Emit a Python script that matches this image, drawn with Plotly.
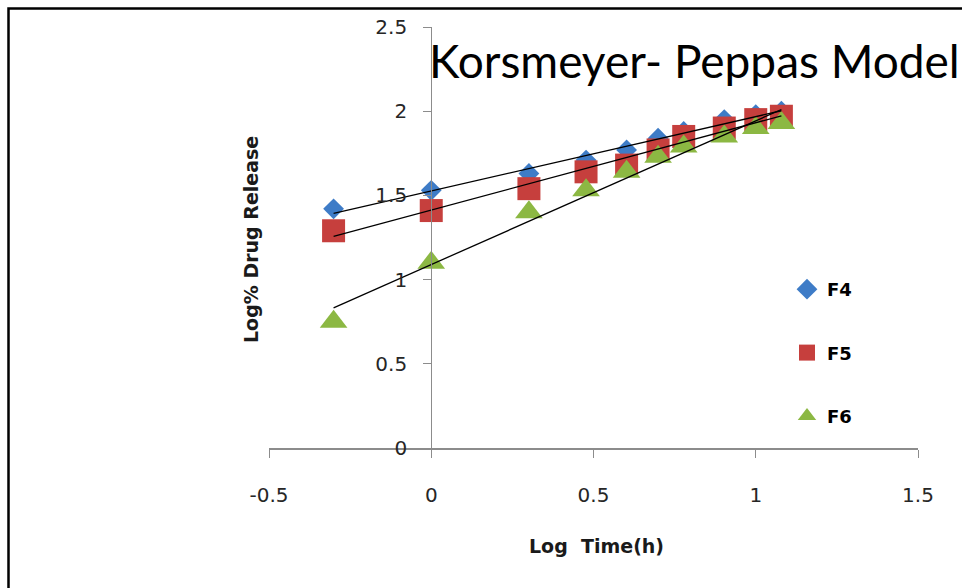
import numpy as np
import plotly.graph_objects as go

# Data (log time in hours, log % drug release)
log_time = [-0.301, 0.0, 0.301, 0.477, 0.602, 0.699, 0.778, 0.903, 1.0, 1.079]
f4 = [1.42, 1.53, 1.63, 1.71, 1.77, 1.84, 1.88, 1.95, 1.98, 2.00]
f5 = [1.29, 1.41, 1.54, 1.64, 1.68, 1.77, 1.85, 1.90, 1.95, 1.97]
f6 = [0.75, 1.10, 1.40, 1.53, 1.64, 1.73, 1.79, 1.85, 1.90, 1.93]
series_names = ["F4", "F5", "F6"]
x_ticks = [-0.5, 0, 0.5, 1, 1.5]
y_ticks = [0, 0.5, 1, 1.5, 2, 2.5]

W, H = 962, 588
px_l, px_r, px_t, px_b = 269, 918, 27, 448

styles = [
    dict(symbol="diamond", size=16, color="#3E7CC7"),
    dict(symbol="square", size=23, color="#C63F3D"),
    dict(symbol="triangle-up", size=24, color="#8CB843"),
]

fig = go.Figure()
for name, ys, st in zip(series_names, [f4, f5, f6], styles):
    fig.add_trace(go.Scatter(
        x=log_time, y=ys, mode="markers", name=name,
        legendgroup=name,
        marker=dict(symbol=st["symbol"], size=st["size"], color=st["color"],
                    line=dict(width=0)),
    ))

# Linear trendlines
for name, ys in zip(series_names, [f4, f5, f6]):
    m, c = np.polyfit(log_time, ys, 1)
    xs = np.array([min(log_time), max(log_time)])
    fig.add_trace(go.Scatter(
        x=xs, y=m * xs + c, mode="lines", showlegend=False,
        line=dict(color="black", width=1.3), hoverinfo="skip",
    ))

xdom = [px_l / W, px_r / W]
ydom = [(H - px_b) / H, (H - px_t) / H]
ypos = xdom[0] + (0 - x_ticks[0]) / (x_ticks[-1] - x_ticks[0]) * (xdom[1] - xdom[0])

tickfont = dict(family="DejaVu Sans", size=20, color="#262626")

fig.update_layout(
    width=W, height=H,
    margin=dict(l=0, r=0, t=0, b=0, autoexpand=False),
    paper_bgcolor="white", plot_bgcolor="white",
    showlegend=True,
    legend=dict(x=787 / W, y=(H - 271) / H, xanchor="left", yanchor="top",
                font=dict(family="DejaVu Sans", size=18, color="black", weight="bold"),
                tracegroupgap=37, bgcolor="rgba(0,0,0,0)", itemwidth=30),
    xaxis=dict(domain=xdom, range=[x_ticks[0], x_ticks[-1]], tickvals=x_ticks,
               ticktext=[str(v) for v in x_ticks],
               showgrid=False, zeroline=False, showline=True, linecolor="#8C8C8C",
               linewidth=1.5, ticks="outside", ticklen=8, tickcolor="#8C8C8C",
               tickfont=tickfont, ticklabelstandoff=20, anchor="y", automargin=False),
    yaxis=dict(domain=ydom, range=[y_ticks[0], y_ticks[-1]], tickvals=y_ticks,
               ticktext=[str(v) for v in y_ticks],
               showgrid=False, zeroline=False, showline=True, linecolor="#8C8C8C",
               linewidth=1.2, ticks="outside", ticklen=8, tickcolor="#8C8C8C",
               tickfont=tickfont, ticklabelstandoff=12, automargin=False,
               anchor="free", position=ypos),
    annotations=[
        dict(text="Korsmeyer- Peppas Model", x=427 / W, y=(H - 61) / H,
             xref="paper", yref="paper", xanchor="left", yanchor="middle",
             showarrow=False, font=dict(family="Lato", size=46, color="black")),
        dict(text="Log% Drug Release", x=251 / W, y=(H - 240) / H,
             xref="paper", yref="paper", xanchor="center", yanchor="middle",
             textangle=-90, showarrow=False,
             font=dict(family="DejaVu Sans", size=19, color="#1a1a1a", weight="bold")),
        dict(text="Log  Time(h)", x=596 / W, y=(H - 546) / H,
             xref="paper", yref="paper", xanchor="center", yanchor="middle",
             showarrow=False,
             font=dict(family="DejaVu Sans", size=19, color="#1a1a1a", weight="bold")),
    ],
    shapes=[
        dict(type="rect", xref="paper", yref="paper",
             x0=8.5 / W, x1=1.05, y0=-0.05, y1=(H - 8.5) / H,
             line=dict(color="black", width=2.5), fillcolor="rgba(0,0,0,0)"),
    ],
)

fig.write_html("out.html")
